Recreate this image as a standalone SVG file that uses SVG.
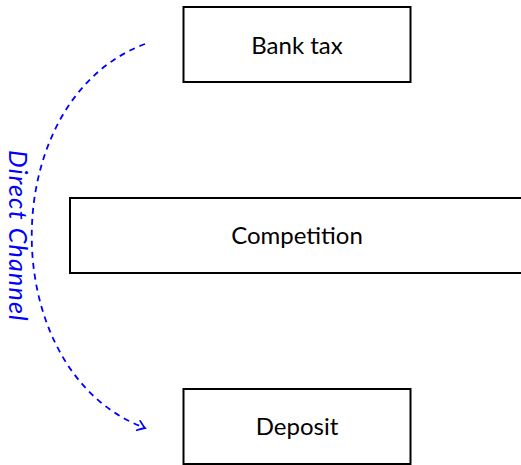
<svg xmlns="http://www.w3.org/2000/svg" width="521" height="465" viewBox="0 0 521 465">
<defs>
<style>
.box{fill:#fff;stroke:#000;stroke-width:2}
.lbl{font-family:Lato,"Open Sans",sans-serif;font-size:24px;fill:#000;text-anchor:middle}
.conn{fill:none;stroke:#00f;stroke-width:1.8;stroke-dasharray:6,5}
.clbl{font-family:Lato,"Open Sans",sans-serif;font-style:italic;font-size:25px;letter-spacing:1.2px;fill:#00f;text-anchor:middle}
</style>
<marker id="arr" viewBox="-10 -7 12 14" markerWidth="12" markerHeight="14" refX="0" refY="0" orient="auto" markerUnits="userSpaceOnUse">
<path d="M-7,-5 Q-2,-1 0,0 Q-2,1 -7,5" fill="none" stroke="#00f" stroke-width="1.8" stroke-linecap="round"/>
</marker>
</defs>
<g id="bank-tax">
<rect class="box" x="183.5" y="7" width="227" height="75"/>
<text class="lbl" x="297" y="54">Bank tax</text>
</g>
<g id="competition">
<rect class="box" x="70" y="198" width="460" height="75"/>
<text class="lbl" x="297" y="244">Competition</text>
</g>
<g id="deposit">
<rect class="box" x="183.5" y="389" width="227" height="75"/>
<text class="lbl" x="297" y="435">Deposit</text>
</g>
<g id="connectors">
<path class="conn" d="M145,44 C-6,100 -6,372 145,428" marker-end="url(#arr)"/>
<text class="clbl" transform="translate(9,236) rotate(90)">Direct Channel</text>
</g>
</svg>
